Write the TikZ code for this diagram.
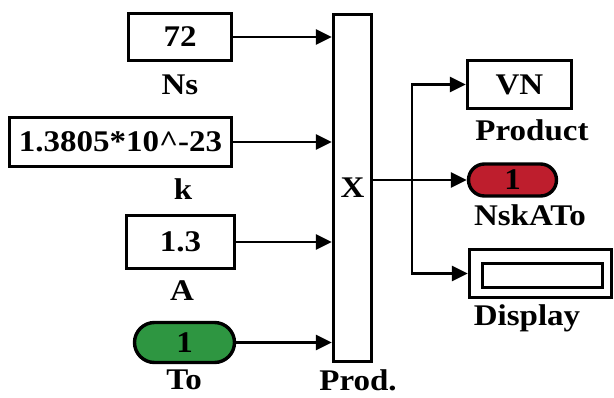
\documentclass[tikz,border=0pt]{standalone}
\usepackage{fontspec}
\setmainfont{Liberation Serif}[FakeStretch=1.1]
\usetikzlibrary{arrows.meta}
\definecolor{constgreen}{RGB}{46,150,65}
\definecolor{gotored}{RGB}{190,30,45}
\begin{document}
\begin{tikzpicture}[x=1pt, y=-1pt,
  every node/.style={font=\fontsize{30}{30}\selectfont\bfseries, inner sep=0pt},
  blk/.style={draw, line width=3.4pt, fill=white},
  sig/.style={line width=2.8pt, -{Triangle[length=16pt,width=15pt]}}]
  \useasboundingbox (0,0) rectangle (614,397);
  % constants
  \node[blk, minimum width=103, minimum height=47] (ns) at (180,37) {72};
  \node (nsLbl) at (180,85) {Ns};
  \node[blk, minimum width=222, minimum height=49] (kb) at (120.5,142) {1.3805*10\^{}-23};
  \node (kLbl) at (183,189) {k};
  \node[blk, minimum width=108, minimum height=53] (area) at (180.5,242) {1.3};
  \node (aLbl) at (182,291) {A};
  \node[blk, fill=constgreen, rounded corners=20pt, minimum width=100, minimum height=40] (to) at (184.5,342.5) {1};
  \node (toLbl) at (184,380) {To};
  % product block
  \node[blk, minimum width=38, minimum height=347] (prod) at (352.5,188) {X};
  \node (prodLbl) at (358,380) {Prod.};
  % outputs
  \node[blk, minimum width=104, minimum height=48] (vn) at (519.5,84.5) {VN};
  \node (vnLbl) at (532,130) {Product};
  \node[blk, fill=gotored, rounded corners=16pt, minimum width=88, minimum height=32] (nsk) at (512.5,180) {1};
  \node (nskLbl) at (530,215) {NskATo};
  \node[blk, minimum width=142, minimum height=48] (disp) at (540.5,273.5) {};
  \node[blk, minimum width=120, minimum height=24] (dispIn) at (542.5,275.5) {};
  \node (dispLbl) at (527,318) {Display};
  % signals
  \draw[sig] (ns) -- (ns -| prod.west);
  \draw[sig] (kb) -- (kb -| prod.west);
  \draw[sig] (area) -- (area -| prod.west);
  \draw[sig] (to) -- (to -| prod.west);
  \coordinate (br) at (412,180);
  \draw[sig] (prod.east |- nsk) -- (nsk);
  \draw[sig] (br) |- (vn);
  \draw[sig] (br) |- (disp);
\end{tikzpicture}
\end{document}
